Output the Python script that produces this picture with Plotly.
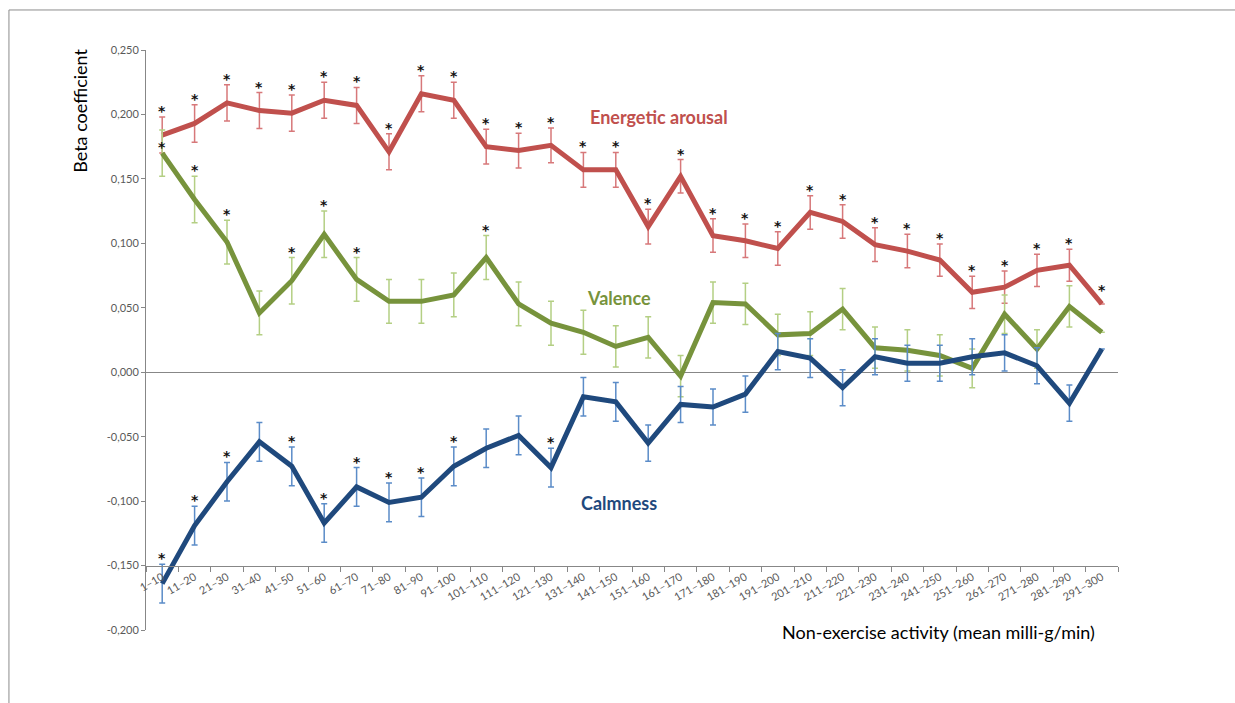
import plotly.graph_objects as go

categories = ["1–10", "11–20", "21–30", "31–40", "41–50", "51–60", "61–70", "71–80", "81–90", "91–100",
              "101–110", "111–120", "121–130", "131–140", "141–150", "151–160", "161–170", "171–180",
              "181–190", "191–200", "201–210", "211–220", "221–230", "231–240", "241–250", "251–260",
              "261–270", "271–280", "281–290", "291–300"]

energetic = [0.184, 0.193, 0.209, 0.203, 0.201, 0.211, 0.207, 0.171, 0.216, 0.211,
             0.175, 0.172, 0.176, 0.157, 0.157, 0.113, 0.152, 0.106, 0.102, 0.096,
             0.124, 0.117, 0.099, 0.094, 0.087, 0.062, 0.066, 0.079, 0.083, 0.053]
energetic_err = [0.014, 0.0145, 0.014, 0.014, 0.014, 0.014, 0.014, 0.014, 0.014, 0.014,
                 0.0135, 0.0135, 0.0135, 0.0135, 0.0135, 0.0135, 0.013, 0.013, 0.013, 0.013,
                 0.013, 0.013, 0.013, 0.013, 0.0125, 0.0125, 0.0125, 0.0125, 0.0125, None]
energetic_sig = [1] * 30

valence = [0.170, 0.134, 0.101, 0.046, 0.071, 0.107, 0.072, 0.055, 0.055, 0.060,
           0.089, 0.053, 0.038, 0.031, 0.020, 0.027, -0.003, 0.054, 0.053, 0.029,
           0.030, 0.049, 0.019, 0.017, 0.013, 0.003, 0.045, 0.018, 0.051, 0.031]
valence_err = [0.018, 0.018, 0.017, 0.017, 0.018, 0.018, 0.017, 0.017, 0.017, 0.017,
               0.017, 0.017, 0.017, 0.017, 0.016, 0.016, 0.016, 0.016, 0.016, 0.016,
               0.017, 0.016, 0.016, 0.016, 0.016, 0.015, 0.015, 0.015, 0.016, None]
valence_sig = [1, 1, 1, 0, 1, 1, 1, 0, 0, 0, 1, 0, 0, 0, 0, 0, 0, 0, 0, 0,
               0, 0, 0, 0, 0, 0, 0, 0, 0, 0]

calmness = [-0.164, -0.119, -0.085, -0.054, -0.073, -0.117, -0.089, -0.101, -0.097, -0.073,
            -0.059, -0.049, -0.074, -0.019, -0.023, -0.055, -0.025, -0.027, -0.017, 0.016,
            0.011, -0.012, 0.012, 0.007, 0.007, 0.012, 0.015, 0.005, -0.024, 0.018]
calmness_err = [0.015, 0.015, 0.015, 0.015, 0.015, 0.015, 0.015, 0.015, 0.015, 0.015,
                0.015, 0.015, 0.015, 0.015, 0.015, 0.014, 0.014, 0.014, 0.014, 0.014,
                0.015, 0.014, 0.014, 0.014, 0.014, 0.014, 0.014, 0.014, 0.014, None]
calmness_sig = [1, 1, 1, 0, 1, 1, 1, 1, 1, 1, 0, 0, 1, 0, 0, 0, 0, 0, 0, 0,
                0, 0, 0, 0, 0, 0, 0, 0, 0, 0]

y_tickvals = [0.25, 0.2, 0.15, 0.1, 0.05, 0.0, -0.05, -0.1, -0.15, -0.2]
y_ticktext = ["0,250", "0,200", "0,150", "0,100", "0,050", "0,000", "-0,050", "-0,100", "-0,150", "-0,200"]

series = [
    ("Energetic arousal", energetic, energetic_err, energetic_sig, "#C0504D", "#D7787A"),
    ("Valence", valence, valence_err, valence_sig, "#77933C", "#B4CF84"),
    ("Calmness", calmness, calmness_err, calmness_sig, "#1F497D", "#5B8CC8"),
]

FONT = "Lato"
fig = go.Figure()

for name, vals, errs, sig, col, ecol in series:
    fig.add_trace(go.Scatter(
        x=categories, y=vals, mode="lines", name=name,
        line=dict(color=col, width=5),
        error_y=dict(type="data", array=errs, visible=True, color=ecol, thickness=1.5, width=3),
        hoverinfo="x+y",
    ))

# significance asterisks: above the upper error bar; if that would collide with an
# asterisk already placed for another series, put it just above the point instead
annotations = []
placed = {}
for name, vals, errs, sig, col, ecol in series:
    for c, v, e, s in zip(categories, vals, errs, sig):
        if not s:
            continue
        y = v + (e if e is not None else 0.0)
        shift = 6 if e is not None else 14
        if any(abs(y - py) < 0.02 for py in placed.get(c, [])):
            y, shift = v, 6
        placed.setdefault(c, []).append(y)
        annotations.append(dict(
            x=c, y=y, xref="x", yref="y",
            text="<b>*</b>", showarrow=False, xanchor="center", yanchor="middle",
            yshift=shift,
            font=dict(family="DejaVu Sans", size=14, color="#111111"),
        ))

ymin, ymax = -0.2, 0.25
xpos = (-0.15 - ymin) / (ymax - ymin)

annotations += [
    dict(text="Beta coefficient", xref="paper", yref="paper", x=-0.068, y=0.895,
         textangle=-90, showarrow=False, xanchor="center", yanchor="middle",
         font=dict(family=FONT, size=18, color="#000000")),
    dict(text="Non-exercise activity (mean milli-g/min)", xref="paper", yref="paper",
         x=0.978, y=-0.003, xanchor="right", yanchor="middle", showarrow=False,
         font=dict(family=FONT, size=18, color="#000000")),
    dict(text="<b>Energetic arousal</b>", xref="paper", yref="paper", x=0.5276, y=0.885,
         showarrow=False, xanchor="center", yanchor="middle",
         font=dict(family=FONT, size=18, color="#C0504D")),
    dict(text="<b>Valence</b>", xref="paper", yref="paper", x=0.487, y=0.573,
         showarrow=False, xanchor="center", yanchor="middle",
         font=dict(family=FONT, size=18, color="#77933C")),
    dict(text="<b>Calmness</b>", xref="paper", yref="paper", x=0.487, y=0.2184,
         showarrow=False, xanchor="center", yanchor="middle",
         font=dict(family=FONT, size=18, color="#1F497D")),
]

fig.update_layout(
    width=1235, height=703,
    margin=dict(l=146, r=117, t=50, b=73),
    paper_bgcolor="white", plot_bgcolor="white",
    showlegend=False,
    font=dict(family=FONT, color="#595959", size=11),
    xaxis=dict(
        type="category", categoryorder="array", categoryarray=categories,
        range=[-0.5, 29.5], anchor="free", position=xpos,
        showline=True, linecolor="#878787", linewidth=1,
        ticks="outside", tickson="boundaries", ticklen=5, tickcolor="#878787",
        tickangle=-30, tickfont=dict(family=FONT, size=11, color="#595959"),
        showgrid=False, zeroline=False,
    ),
    yaxis=dict(
        range=[ymin, ymax], tickvals=y_tickvals, ticktext=y_ticktext,
        showline=True, linecolor="#878787", linewidth=1,
        ticks="outside", ticklen=4, tickcolor="#878787",
        tickfont=dict(family=FONT, size=11, color="#595959"),
        showgrid=False, zeroline=True, zerolinecolor="#878787", zerolinewidth=1,
    ),
    shapes=[dict(type="rect", xref="paper", yref="paper", x0=-0.141, x1=1.2, y0=-0.2, y1=1.069,
                 line=dict(color="#8C8C8C", width=1), fillcolor="rgba(0,0,0,0)", layer="below")],
    annotations=annotations,
)

fig.write_html("out.html")
